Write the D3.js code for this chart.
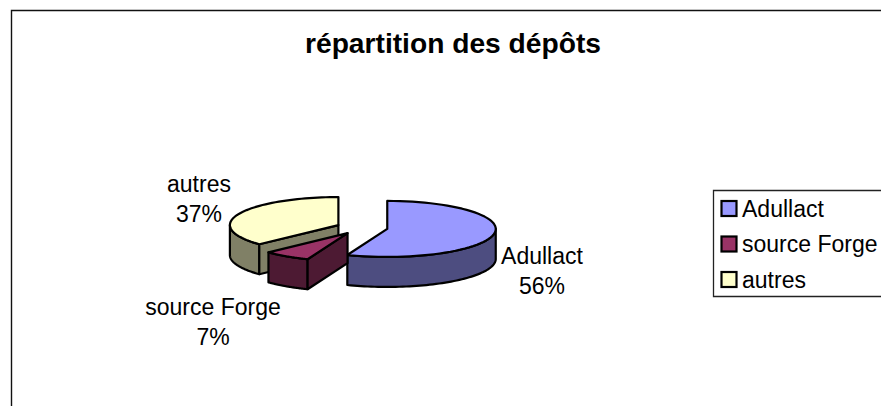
<!DOCTYPE html>
<html><head><meta charset="utf-8">
<script src="https://cdn.jsdelivr.net/npm/d3@7"></script>
<style>html,body{margin:0;padding:0;background:#fff}svg{display:block}text{font-family:"Liberation Sans",Arial,sans-serif;fill:#000}</style>
</head><body><svg id="c" width="881" height="406"></svg>
<script>
const title = "répartition des dépôts";
const categories = ["Adullact", "source Forge", "autres"];
const values = [56, 7, 37];
const topColors = ["#9999FF", "#993366", "#FFFFCC"];
const wallColors = ["#4D4D80", "#4D1A33", "#808066"];

const W = 881, H = 406;
const geo = {cx: 362, cy: 227.7, rx: 108.5, ry: 28, depth: 30, explode: 0.237};
const labelPos = [[542, 264], [213, 315], [199, 192]];
const labelStep = 30, labelSize = 23;

const svg = d3.select("#c");
svg.append("path").attr("d", `M${W},10.5H11.5V${H}`).attr("fill", "none").attr("stroke", "#111").attr("stroke-width", 1.4);
svg.append("text").attr("x", 453).attr("y", 53).attr("text-anchor", "middle")
  .attr("font-weight", "bold").attr("font-size", 28.2).text(title);

const pie = d3.pie().sort(null).value(d => d)(values);
const line = d3.line();
const arcPts = (c, a0, a1, dy = 0) => d3.range(0, 61).map(i => {
  const a = a0 + (a1 - a0) * i / 60;
  return [c.x + geo.rx * Math.sin(a), c.y + dy - geo.ry * Math.cos(a)];
});
const slices = pie.map((p, i) => {
  const mid = (p.startAngle + p.endAngle) / 2;
  return {p, i, c: {
    x: geo.cx + geo.explode * geo.rx * Math.sin(mid),
    y: geo.cy - geo.explode * geo.ry * Math.cos(mid)
  }};
});
const g = svg.append("g").attr("stroke", "#000").attr("stroke-width", 2.2).attr("stroke-linejoin", "round");
const radialWall = (c, a, i) => {
  const e = arcPts(c, a, a)[0];
  g.append("path").attr("d", line([[c.x, c.y], e, [e[0], e[1] + geo.depth], [c.x, c.y + geo.depth]]) + "Z").attr("fill", wallColors[i]);
};
[2, 0, 1].forEach(k => {
  const {p, i, c} = slices[k];
  const a0 = p.startAngle, a1 = p.endAngle;
  // outer wall: the part of the rim facing the viewer (90deg to 270deg)
  const w0 = Math.max(a0, Math.PI / 2), w1 = Math.min(a1, 3 * Math.PI / 2);
  if (w1 > w0) {
    const pts = arcPts(c, w0, w1).concat(arcPts(c, w1, w0, geo.depth));
    g.append("path").attr("d", line(pts) + "Z").attr("fill", wallColors[i]);
  }
  // the cut face at the start of a slice on the left half faces the viewer
  if (a0 > Math.PI) radialWall(c, a0, i);
  g.append("path").attr("d", line([[c.x, c.y]].concat(arcPts(c, a0, a1))) + "Z").attr("fill", topColors[i]);
});

categories.forEach((name, i) => {
  const [x, y] = labelPos[i];
  const t = svg.append("text").attr("text-anchor", "middle").attr("font-size", labelSize);
  t.append("tspan").attr("x", x).attr("y", y).text(name);
  t.append("tspan").attr("x", x).attr("y", y + labelStep).text(values[i] + "%");
});

// legend
svg.append("path").attr("d", `M${W},190.5H713.5V296.5H${W}`).attr("fill", "none").attr("stroke", "#222").attr("stroke-width", 1.3);
const ly = d3.scalePoint().domain(categories).range([208.5, 279.5]);
categories.forEach((name, i) => {
  svg.append("rect").attr("x", 721.5).attr("y", ly(name) - 7.5).attr("width", 15).attr("height", 15)
    .attr("fill", topColors[i]).attr("stroke", "#000").attr("stroke-width", 2.2);
  svg.append("text").attr("x", 742).attr("y", ly(name) + 8).attr("font-size", labelSize).text(name);
});
</script></body></html>
